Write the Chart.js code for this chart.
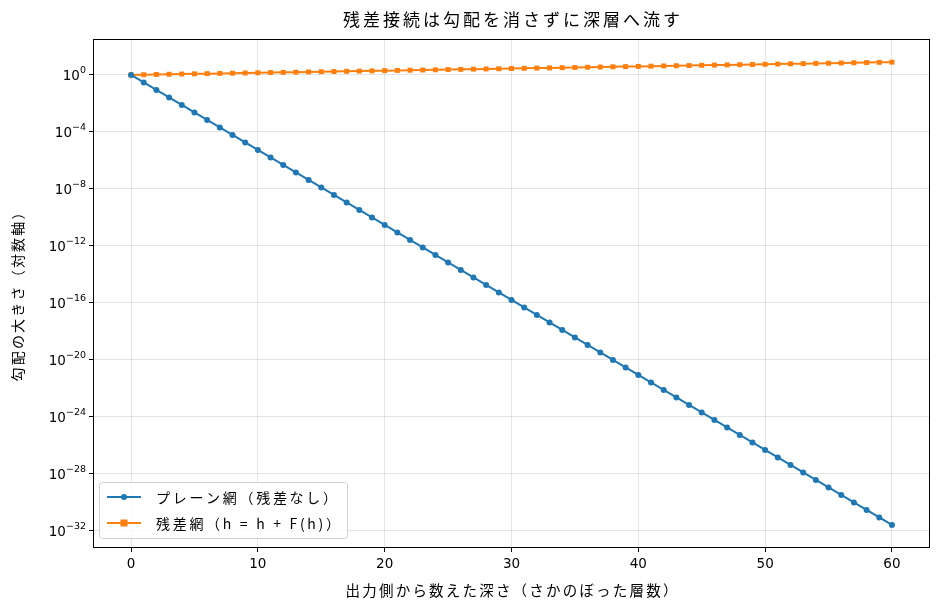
<!DOCTYPE html>
<html>
<head>
<meta charset="utf-8">
<script src="https://cdn.jsdelivr.net/npm/chart.js@4"></script>
<style>
  html, body { margin: 0; padding: 0; background: #fff; }
  #wrap { width: 940px; height: 611px; }
</style>
</head>
<body>
<div id="wrap"><canvas id="gradChart" width="940" height="611"></canvas></div>
<script>
// depth (layers counted back from the output)
const depths = [];
for (let i = 0; i <= 60; i++) depths.push(i);

// plain network: gradient shrinks every layer
const plainGrad = [
  1, 0.2977, 0.08861, 0.02638, 7.85e-3, 2.336e-3, 6.955e-4, 2.070e-4, 6.16e-5, 1.834e-5,
  5.46e-6, 1.625e-6, 4.836e-7, 1.439e-7, 4.28e-8, 1.275e-8, 3.795e-9, 1.130e-9, 3.362e-10, 1.0e-10,
  2.979e-11, 8.866e-12, 2.639e-12, 7.855e-13, 2.338e-13, 6.959e-14, 2.071e-14, 6.165e-15, 1.835e-15, 5.462e-16,
  1.626e-16, 4.839e-17, 1.440e-17, 4.287e-18, 1.276e-18, 3.798e-19, 1.130e-19, 3.364e-20, 1.001e-20, 2.980e-21,
  8.87e-22, 2.640e-22, 7.86e-23, 2.339e-23, 6.96e-24, 2.072e-24, 6.17e-25, 1.836e-25, 5.464e-26, 1.627e-26,
  4.842e-27, 1.441e-27, 4.289e-28, 1.277e-28, 3.800e-29, 1.131e-29, 3.366e-30, 1.002e-30, 2.982e-31, 8.88e-32,
  2.642e-32
];

// residual network: gradient stays around 1 (slowly grows)
const residualGrad = [
  1, 1.035, 1.071, 1.109, 1.148, 1.188, 1.229, 1.272, 1.317, 1.363,
  1.411, 1.460, 1.511, 1.564, 1.619, 1.675, 1.734, 1.795, 1.857, 1.923,
  1.990, 2.059, 2.132, 2.206, 2.283, 2.363, 2.446, 2.532, 2.620, 2.712,
  2.807, 2.905, 3.007, 3.112, 3.221, 3.334, 3.450, 3.571, 3.696, 3.825,
  3.959, 4.098, 4.241, 4.390, 4.543, 4.702, 4.867, 5.037, 5.214, 5.396,
  5.585, 5.780, 5.983, 6.192, 6.409, 6.633, 6.865, 7.106, 7.354, 7.612,
  7.878
];

const xTicks = [0, 10, 20, 30, 40, 50, 60];
const yTicks = [1, 1e-4, 1e-8, 1e-12, 1e-16, 1e-20, 1e-24, 1e-28, 1e-32];
const yTickExps = ['0', '−4', '−8', '−12', '−16', '−20', '−24', '−28', '−32'];

const titleText = '残差接続は勾配を消さずに深層へ流す';
const xTitle = '出力側から数えた深さ（さかのぼった層数）';
const yTitle = '勾配の大きさ（対数軸）';

const jpFont = "'Noto Sans CJK JP', 'DejaVu Sans', sans-serif";
const numFont = "'DejaVu Sans', 'Noto Sans CJK JP', sans-serif";

// draw spaced-out Japanese text centred on (cx, cy)
function spacedText(ctx, text, cx, cy, size, spacing) {
  ctx.font = size + 'px ' + jpFont;
  ctx.letterSpacing = spacing + 'px';
  const w = ctx.measureText(text).width - spacing;
  ctx.textAlign = 'left';
  ctx.textBaseline = 'middle';
  ctx.fillText(text, cx - w / 2, cy);
  ctx.letterSpacing = '0px';
}

// frame around the plot area (all four spines)
const framePlugin = {
  id: 'frame',
  afterDatasetsDraw(chart) {
    const { ctx, chartArea: a } = chart;
    ctx.save();
    ctx.strokeStyle = '#000';
    ctx.lineWidth = 1;
    const l = Math.round(a.left) + 0.5, t = Math.round(a.top) + 0.5;
    const r = Math.round(a.right) - 0.5, b = Math.round(a.bottom) - 0.5;
    ctx.strokeRect(l, t, r - l, b - t);
    ctx.restore();
  }
};

// title and axis titles
const titles = {
  id: 'titles',
  afterDraw(chart) {
    const { ctx, chartArea: a } = chart;
    ctx.save();
    ctx.fillStyle = '#000';
    spacedText(ctx, titleText, (a.left + a.right) / 2, 20, 17, 3);
    spacedText(ctx, xTitle, (a.left + a.right) / 2, 590, 14.5, 2.2);
    ctx.translate(18, (a.top + a.bottom) / 2);
    ctx.rotate(-Math.PI / 2);
    spacedText(ctx, yTitle, 0, 0, 14, 2.2);
    ctx.restore();
  }
};

// 10^n tick labels with a raised exponent, like mathtext
const powerLabels = {
  id: 'powerLabels',
  afterDraw(chart) {
    const { ctx } = chart;
    const y = chart.scales.y;
    const right = y.right - 7;
    ctx.save();
    ctx.fillStyle = '#000';
    ctx.textBaseline = 'alphabetic';
    ctx.textAlign = 'left';
    yTicks.forEach((v, i) => {
      const py = y.getPixelForValue(v);
      ctx.font = '9.5px ' + numFont;
      const ew = ctx.measureText(yTickExps[i]).width;
      ctx.font = '13.5px ' + numFont;
      const bw = ctx.measureText('10').width;
      ctx.fillText('10', right - ew - bw, py + 5);
      ctx.font = '9.5px ' + numFont;
      ctx.fillText(yTickExps[i], right - ew, py - 1.5);
    });
    ctx.restore();
  }
};

// matplotlib-style legend box in the lower left of the plot
const boxLegend = {
  id: 'boxLegend',
  afterDraw(chart) {
    const { ctx, chartArea: a } = chart;
    const x = a.left + 6, w = 248, h = 56;
    const y = a.bottom - 10 - h;
    ctx.save();
    ctx.fillStyle = 'rgba(255,255,255,0.8)';
    ctx.strokeStyle = '#d0d0d0';
    ctx.lineWidth = 1;
    ctx.beginPath();
    ctx.roundRect(x + 0.5, y + 0.5, w, h, 3);
    ctx.fill();
    ctx.stroke();
    ctx.font = '14px ' + jpFont;
    ctx.letterSpacing = '2.7px';
    ctx.textBaseline = 'middle';
    chart.data.datasets.forEach((ds, i) => {
      const cy = y + 15 + i * 26;
      ctx.strokeStyle = ds.borderColor;
      ctx.lineWidth = 2;
      ctx.beginPath();
      ctx.moveTo(x + 8, cy);
      ctx.lineTo(x + 42, cy);
      ctx.stroke();
      ctx.fillStyle = ds.backgroundColor;
      if (ds.pointStyle === 'rect') {
        ctx.fillRect(x + 25 - 3.5, cy - 3.5, 7, 7);
      } else {
        ctx.beginPath();
        ctx.arc(x + 25, cy, 3, 0, Math.PI * 2);
        ctx.fill();
      }
      ctx.fillStyle = '#000';
      ctx.fillText(ds.label, x + 57, cy + 1);
    });
    ctx.restore();
  }
};

const ctx = document.getElementById('gradChart').getContext('2d');
const gradChart = new Chart(ctx, {
  type: 'line',
  data: {
    datasets: [{
      label: 'プレーン網（残差なし）',
      data: depths.map((d, i) => ({ x: d, y: plainGrad[i] })),
      borderColor: '#1f77b4',
      backgroundColor: '#1f77b4',
      borderWidth: 2,
      pointRadius: 3,
      pointStyle: 'circle',
      pointBorderWidth: 0,
      tension: 0
    }, {
      label: '残差網（h = h + F(h)）',
      data: depths.map((d, i) => ({ x: d, y: residualGrad[i] })),
      borderColor: '#ff7f0e',
      backgroundColor: '#ff7f0e',
      borderWidth: 2,
      pointRadius: 3.5,
      pointStyle: 'rect',
      pointBorderWidth: 0,
      tension: 0
    }]
  },
  options: {
    responsive: false,
    animation: false,
    layout: { padding: { left: 0, right: 10, top: 39, bottom: 0 } },
    plugins: {
      legend: { display: false },
      tooltip: { enabled: false },
      title: { display: false }
    },
    scales: {
      x: {
        type: 'linear',
        min: -3,
        max: 63,
        afterBuildTicks: scale => { scale.ticks = xTicks.map(v => ({ value: v })); },
        afterFit: scale => { scale.height = 63; },
        ticks: { color: '#000', font: { family: numFont, size: 13.5 }, padding: 4, maxRotation: 0 },
        grid: { color: 'rgba(0,0,0,0.1)', tickColor: '#000', tickLength: 4 },
        border: { display: false }
      },
      y: {
        type: 'logarithmic',
        min: Math.pow(10, -33.2),
        max: Math.pow(10, 2.52),
        afterBuildTicks: scale => { scale.ticks = yTicks.map(v => ({ value: v })); },
        afterFit: scale => { scale.width = 93; },
        ticks: { display: false },
        grid: { color: 'rgba(0,0,0,0.1)', tickColor: '#000', tickLength: 4, drawTicks: true },
        border: { display: false }
      }
    }
  },
  plugins: [framePlugin, powerLabels, titles, boxLegend]
});
</script>
</body>
</html>
